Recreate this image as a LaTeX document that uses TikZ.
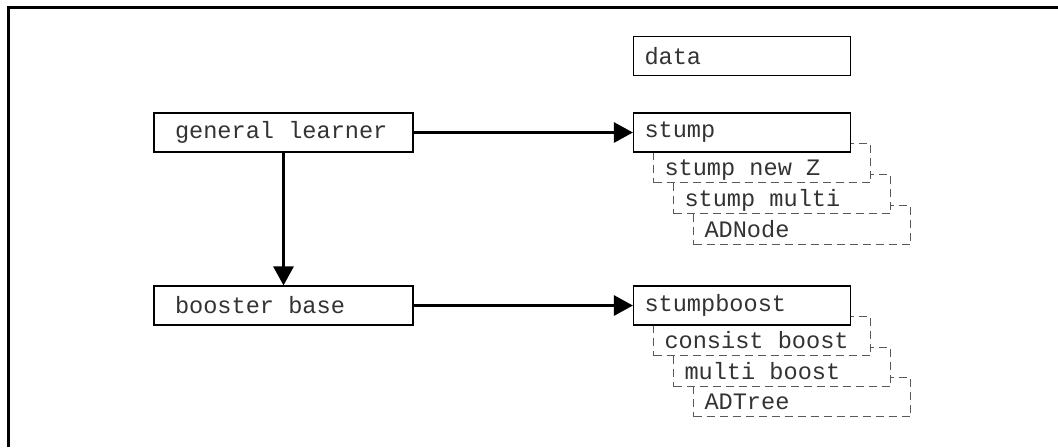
\documentclass[tikz,border=0pt]{standalone}
\usepackage{fontspec}
\setmonofont{Liberation Mono}
\usetikzlibrary{arrows.meta}
\tikzset{classbox/.style={draw, line width=.6pt, fill=white, minimum height=19.5pt,
    text width=97.5pt, inner xsep=5.5pt, inner ysep=0pt, align=left, text=black!80,
    font=\ttfamily\fontsize{11.8}{14}\selectfont,
    execute at begin node={\spaceskip=7.08pt\relax}}}
\tikzset{subbox/.style={classbox, draw=black!65, dash pattern=on 4pt off 2.5pt,
    text height=14pt, text depth=2pt}}
\tikzset{learnerbox/.style={classbox, text width=108.5pt, inner xsep=10.5pt}}
\tikzset{link/.style={line width=1.5pt, -{Triangle[length=9.5pt,width=10pt]}}}

\begin{document}
\begin{tikzpicture}[x=.5pt,y=-.5pt]
  \useasboundingbox (0,0) rectangle (1058,447);
  \draw[line width=1.5pt] (8,447) -- (8,7) -- (1058,7);
  % stacked subclasses, back to front
  \foreach \x/\y/\name/\lab in {
    802/225/ADNode/adnode,
    782/194/stump multi/stumpmulti,
    762/163/stump new Z/stumpnewz,
    802/397/ADTree/adtree,
    782/367/multi boost/multiboost,
    762/336/consist boost/consist%
  } {
    \node[subbox] (\lab) at (\x, \y) {\name};
  }
  \foreach \x/\y/\name/\lab in {
    742/56/data/data,
    742/132.5/stump/stump,
    742/305.5/stumpboost/stumpboost%
  } {
    \node[classbox] (\lab) at (\x, \y) {\name};
  }
  \node[learnerbox] (general) at (283.5, 132.5) {general learner};
  \node[learnerbox] (booster) at (283.5, 305.5) {booster base};
  \foreach \u/\v in {
    general.east/stump.west,
    general.south/booster.north,
    booster.east/stumpboost.west%
  }{
    \draw[link] (\u) -- (\v);
  }
\end{tikzpicture}
\end{document}
